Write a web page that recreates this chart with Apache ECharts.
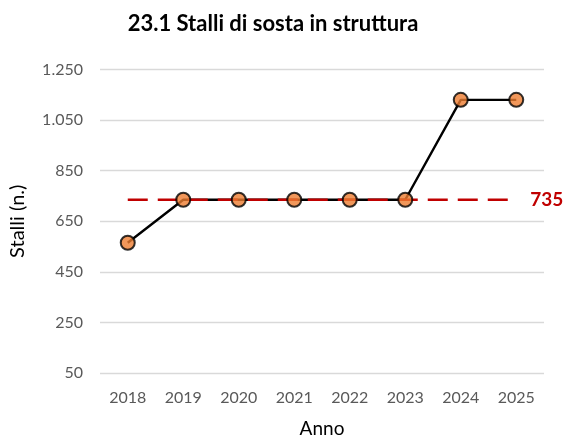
<!DOCTYPE html>
<html>
<head>
<meta charset="utf-8">
<script src="https://cdn.jsdelivr.net/npm/echarts@6/dist/echarts.min.js"></script>
<style>
html,body{margin:0;padding:0;background:#fff;}
#chart{width:568px;height:443px;}
</style>
</head>
<body>
<div id="chart"></div>
<script>
const anni = ['2018','2019','2020','2021','2022','2023','2024','2025'];
const stalli = [565, 735, 735, 735, 735, 735, 1130, 1130];
const riferimento = [735, 735, 735, 735, 735, 735, 735, 735];
const yMin = 50, yMax = 1250, yStep = 200;

const font = 'Lato, "Open Sans", sans-serif';
const chart = echarts.init(document.getElementById('chart'), null, {renderer: 'canvas'});
chart.setOption({
  backgroundColor: '#ffffff',
  animation: false,
  title: {
    text: '23.1 Stalli di sosta in struttura',
    left: 268, textAlign: 'center', top: 8,
    textStyle: {fontFamily: font, fontWeight: 'bold', fontSize: 22, color: '#000'}
  },
  grid: {left: 96, right: 24, top: 69.5, bottom: 67, containLabel: false},
  xAxis: {
    type: 'category', data: anni, boundaryGap: true,
    name: 'Anno', nameLocation: 'middle', nameGap: 46,
    nameTextStyle: {fontFamily: font, fontSize: 19, color: '#000'},
    axisLine: {show: false}, axisTick: {show: false},
    axisLabel: {fontFamily: font, fontSize: 16, color: '#595959', margin: 17}
  },
  yAxis: {
    type: 'value', min: yMin, max: yMax, interval: yStep,
    name: 'Stalli (n.)', nameLocation: 'middle', nameGap: 72,
    nameTextStyle: {fontFamily: font, fontSize: 20, color: '#000'},
    axisLine: {show: false}, axisTick: {show: false},
    axisLabel: {fontFamily: font, fontSize: 16, color: '#595959', margin: 17,
      formatter: v => v.toString().replace(/\B(?=(\d{3})+(?!\d))/g, '.')},
    splitLine: {lineStyle: {color: '#d9d9d9', width: 1.3}}
  },
  series: [
    {
      type: 'line', data: stalli, showSymbol: false, z: 2,
      lineStyle: {color: '#000', width: 2.4}
    },
    {
      type: 'line', data: riferimento, showSymbol: false, z: 3,
      lineStyle: {color: '#C00000', width: 2.5, type: [20, 10]},
      endLabel: {show: true, formatter: '735', distance: 14,
        fontFamily: font, fontWeight: 'bold', fontSize: 19, color: '#C00000'}
    },
    {
      type: 'scatter', data: stalli, z: 4, symbol: 'circle', symbolSize: 14,
      itemStyle: {color: '#ED7D31', borderColor: '#000', borderWidth: 2}
    }
  ]
});
</script>
</body>
</html>
